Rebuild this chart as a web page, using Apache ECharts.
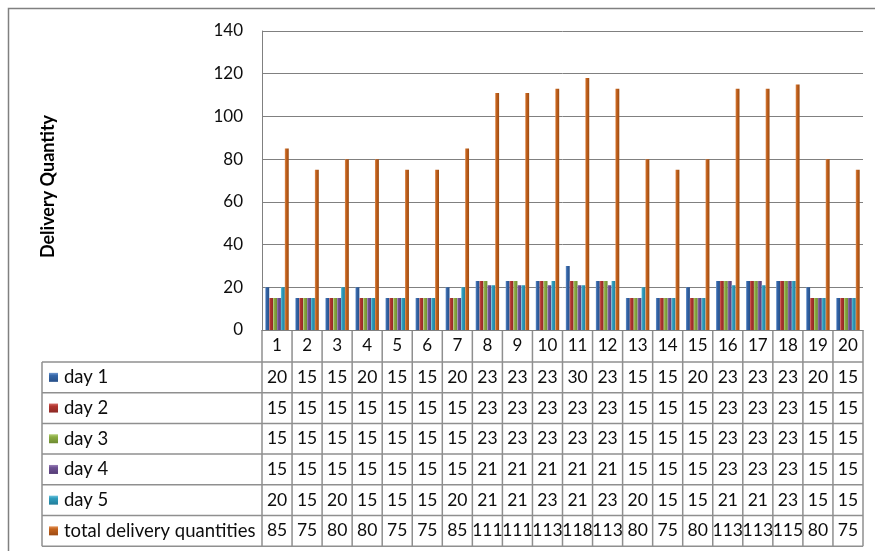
<!DOCTYPE html>
<html>
<head>
<meta charset="utf-8">
<script src="https://cdn.jsdelivr.net/npm/echarts@6/dist/echarts.min.js"></script>
<style>
  html, body { margin: 0; padding: 0; background: #fff; }
  #main { width: 875px; height: 551px; }
</style>
</head>
<body>
<div id="main"></div>
<script>
// Delivery quantities per order, five delivery days plus the total
const categories = ['1','2','3','4','5','6','7','8','9','10','11','12','13','14','15','16','17','18','19','20'];
const day1  = [20,15,15,20,15,15,20,23,23,23,30,23,15,15,20,23,23,23,20,15];
const day2  = [15,15,15,15,15,15,15,23,23,23,23,23,15,15,15,23,23,23,15,15];
const day3  = [15,15,15,15,15,15,15,23,23,23,23,23,15,15,15,23,23,23,15,15];
const day4  = [15,15,15,15,15,15,15,21,21,21,21,21,15,15,15,23,23,23,15,15];
const day5  = [20,15,20,15,15,15,20,21,21,23,21,23,20,15,15,21,21,23,15,15];
const total = [85,75,80,80,75,75,85,111,111,113,118,113,80,75,80,113,113,115,80,75];
const seriesNames = ['day 1','day 2','day 3','day 4','day 5','total delivery quantities'];
const seriesData = [day1, day2, day3, day4, day5, total];
const yTicks = { min: 0, max: 140, interval: 20 };

const FONT = 'Lato, "Open Sans", sans-serif';
const TEXT_COLOR = '#0d0d0d';
const GRID_COLOR = '#808080';
const TABLE_COLOR = '#8f8f8f';

// shaded bar fills: light edge, saturated body, dark edge
const palette = [
  ['#6f98d0', '#3566a8', '#264f88'],
  ['#d46a66', '#b2352f', '#8c2824'],
  ['#b3cf78', '#8cad43', '#6d8a31'],
  ['#9a80b8', '#6e5193', '#553c76'],
  ['#6cc3dc', '#2f9dbe', '#227d99'],
  ['#e39257', '#c4631d', '#9c4b13']
];
function shade(c, horizontal) {
  return new echarts.graphic.LinearGradient(0, 0, horizontal ? 1 : 0, horizontal ? 0 : 1, [
    { offset: 0, color: c[0] },
    { offset: 0.3, color: c[1] },
    { offset: 1, color: c[2] }
  ]);
}

const chart = echarts.init(document.getElementById('main'), null, { renderer: 'canvas' });

chart.setOption({
  animation: false,
  backgroundColor: '#ffffff',
  grid: { left: 262, right: 12, top: 31, bottom: 221, containLabel: false },
  xAxis: {
    type: 'category',
    data: categories,
    axisLine: { show: true, lineStyle: { color: GRID_COLOR, width: 1 } },
    axisTick: { show: false },
    axisLabel: { color: TEXT_COLOR, fontFamily: FONT, fontSize: 17, margin: 16, verticalAlign: 'middle', interval: 0 }
  },
  yAxis: {
    type: 'value',
    min: yTicks.min, max: yTicks.max, interval: yTicks.interval,
    name: 'Delivery Quantity',
    nameLocation: 'middle',
    nameRotate: 90,
    nameGap: 205,
    nameTextStyle: { color: '#000', fontFamily: FONT, fontSize: 18, fontWeight: 'bold', padding: [0, 12, 0, 0] },
    axisLine: { show: true, lineStyle: { color: GRID_COLOR, width: 1 } },
    axisTick: { show: false },
    axisLabel: { color: TEXT_COLOR, fontFamily: FONT, fontSize: 17, margin: 19 },
    splitLine: { show: true, lineStyle: { color: GRID_COLOR, width: 1 } }
  },
  series: seriesData.map((d, i) => ({
    name: seriesNames[i],
    type: 'bar',
    data: d,
    barGap: '0%',
    barCategoryGap: '22%',
    itemStyle: { color: shade(palette[i], true) }
  }))
});

// Data table under the plot: column positions come from the category axis
function drawTable() {
  const x0 = chart.convertToPixel({ xAxisIndex: 0 }, 0);
  const x1 = chart.convertToPixel({ xAxisIndex: 0 }, 1);
  const colW = x1 - x0;
  const left = x0 - colW / 2;
  const right = left + colW * categories.length;
  const axisY = chart.convertToPixel({ yAxisIndex: 0 }, 0);
  const headBottom = axisY + 32;
  const rowH = 30.7;
  const tableBottom = headBottom + rowH * seriesNames.length;
  const legendLeft = 42;
  const els = [];
  const line = (xa, ya, xb, yb, color, w) => els.push({
    type: 'line', silent: true,
    shape: { x1: xa, y1: ya, x2: xb, y2: yb },
    style: { stroke: color, lineWidth: w }
  });

  // outer frame of the chart area
  els.push({ type: 'rect', silent: true, shape: { x: 8.5, y: 8.5, width: 900, height: 600 },
    style: { fill: null, stroke: GRID_COLOR, lineWidth: 1.5 } });

  // horizontal rules
  for (let r = 0; r <= seriesNames.length; r++) {
    const y = headBottom + r * rowH;
    line(legendLeft, y, right, y, TABLE_COLOR, 1.5);
  }
  // vertical rules for the value columns
  for (let c = 0; c <= categories.length; c++) {
    const x = left + c * colW;
    line(x, axisY, x, tableBottom, TABLE_COLOR, 1.5);
  }
  line(legendLeft, headBottom, legendLeft, tableBottom, TABLE_COLOR, 1.5);

  seriesNames.forEach((name, r) => {
    const cy = headBottom + r * rowH + rowH / 2;
    els.push({ type: 'rect', silent: true, shape: { x: 49, y: cy - 4.5, width: 9, height: 9 },
      style: { fill: shade(palette[r], false) } });
    els.push({ type: 'text', silent: true, x: 64, y: cy,
      style: { text: name, fill: TEXT_COLOR, font: '18.5px ' + FONT,
        textAlign: 'left', textVerticalAlign: 'middle', align: 'left', verticalAlign: 'middle' } });
    seriesData[r].forEach((v, c) => {
      const cx = chart.convertToPixel({ xAxisIndex: 0 }, c);
      els.push({ type: 'text', silent: true, x: cx, y: cy,
        style: { text: String(v), fill: TEXT_COLOR, font: '17.5px ' + FONT,
          textAlign: 'center', textVerticalAlign: 'middle', align: 'center', verticalAlign: 'middle' } });
    });
  });

  chart.setOption({ graphic: { elements: els } });
}
drawTable();
</script>
</body>
</html>
